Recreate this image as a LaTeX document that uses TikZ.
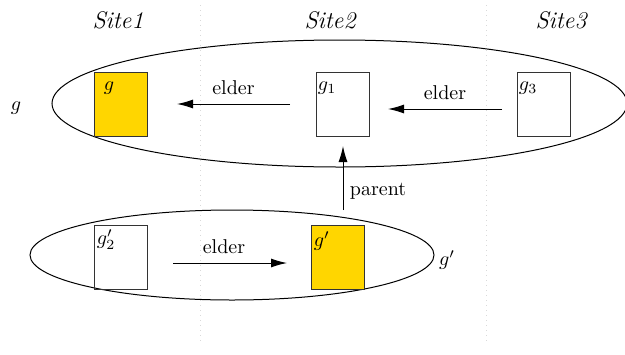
\documentclass[tikz,border=0pt]{standalone}
\usetikzlibrary{arrows.meta}
\definecolor{gold}{RGB}{255,214,0}
\begin{document}
\begin{tikzpicture}[x=0.5pt,y=-0.5pt,
  gbox/.style={draw=black!80, line width=0.5pt, minimum width=26.5pt, minimum height=32pt, inner sep=0pt},
  filledbox/.style={gbox, fill=gold},
  boxlabel/.style={inner sep=0pt, anchor=north west},
  sitelabel/.style={font=\large\itshape},
  conn/.style={-{Latex[length=8pt,width=4.5pt]}, line width=0.5pt},
  sep/.style={draw=black!15, dotted, line width=0.5pt}]
\useasboundingbox (0,0) rectangle (625,354);
% separators
\draw[sep] (200,5) -- (200,342);
\draw[sep] (486,5) -- (486,342);
% site labels
\node[sitelabel] (s1) at (118,20) {Site1};
\node[sitelabel] (s2) at (330,20) {Site2};
\node[sitelabel] (s3) at (561,20) {Site3};
% ellipses
\draw[line width=0.5pt] (339.5,103.5) ellipse [x radius=143.75pt, y radius=31.75pt];
\draw[line width=0.5pt] (232,255) ellipse [x radius=101pt, y radius=22.5pt];
\node (lg) at (16,108) {$g$};
\node (lgp) at (447,260) {$g'$};
% boxes
\node[filledbox] (g) at (120.5,104) {};
\node[boxlabel] at ([xshift=5pt,yshift=-5pt]g.north west) {$g$};
\node[gbox] (g1) at (342.5,104) {};
\node[boxlabel] at ([xshift=1pt,yshift=-5pt]g1.north west) {$g_1$};
\node[gbox] (g3) at (543.5,104) {};
\node[boxlabel] at ([xshift=1pt,yshift=-5pt]g3.north west) {$g_3$};
\node[gbox] (g2p) at (120.5,257.5) {};
\node[boxlabel] at ([xshift=1.5pt,yshift=-2pt]g2p.north west) {$g'_2$};
\node[filledbox] (gp) at (337.5,257.5) {};
\node[boxlabel] at ([xshift=1.5pt,yshift=-3pt]gp.north west) {$g'$};
% connector end points
\coordinate (a1s) at (290,104);
\coordinate (a1e) at (177,104);
\coordinate (a2s) at (502,109);
\coordinate (a2e) at (388,109);
\coordinate (a3s) at (173,263);
\coordinate (a3e) at (287,263);
\coordinate (a4s) at (343,210);
\coordinate (a4e) at (343,146);
% connectors
\draw[conn] (a1s) -- node[above=1pt] (e1) {elder} (a1e);
\draw[conn] (a2s) -- node[above=1pt] (e2) {elder} (a2e);
\draw[conn] (a3s) -- node[above=1pt, xshift=-3pt] (e3) {elder} (a3e);
\draw[conn] (a4s) -- (a4e);
\node (pl) at (378,191) {parent};
\end{tikzpicture}
\end{document}
